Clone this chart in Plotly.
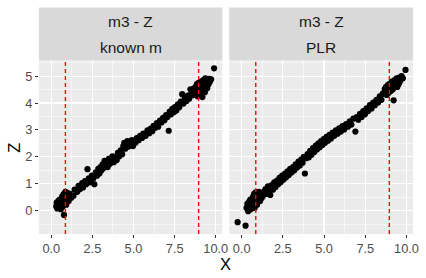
import plotly.graph_objects as go

# ---------------- data ----------------
panel_titles = ["m3 - Z", "m3 - Z"]
panel_subtitles = ["known m", "PLR"]

known_x = [0.30, 0.33, 0.36, 0.40, 0.43, 0.45, 0.48, 0.50, 0.53, 0.56, 0.58, 0.61, 0.64, 0.66, 0.69, 0.72,
           0.74, 0.77, 0.79, 0.82, 0.84, 0.86, 0.88, 0.91, 0.94, 0.97, 1.01, 1.06, 1.13, 1.22,
           1.35, 1.42, 1.58, 1.66, 1.75, 1.88, 1.93, 2.05, 2.12, 2.20, 2.28, 2.36, 2.47, 2.55, 2.62, 2.71,
           2.78, 2.86, 2.93, 2.99, 3.06, 3.12, 3.18, 3.24, 3.30, 3.35, 3.43, 3.50, 3.57, 3.66, 3.72, 3.80,
           3.91, 3.98, 4.05, 4.14, 4.22, 4.31, 4.38, 4.44, 4.50, 4.56, 4.63, 4.70, 4.77, 4.84, 4.90, 4.97,
           5.04, 5.12, 5.20, 5.31, 5.40, 5.52, 5.60, 5.74, 5.85, 5.96, 6.05, 6.14, 6.22, 6.33, 6.42, 6.50,
           6.61, 6.70, 6.80, 6.88, 6.98, 7.06, 7.14, 7.20, 7.28, 7.36, 7.44, 7.52, 7.60, 7.70, 7.78, 7.88,
           7.96, 8.04, 8.12, 8.22, 8.30, 8.38, 8.46, 8.52,
           8.56, 8.60, 8.64, 8.68, 8.72, 8.76, 8.80, 8.83, 8.86, 8.89, 8.92, 8.95, 8.98, 9.01, 9.04, 9.07,
           9.10, 9.13, 9.16, 9.19, 9.22, 9.25, 9.28, 9.31, 9.34, 9.37, 9.40, 9.44, 9.48, 9.52, 9.56, 9.60,
           9.65, 9.72, 9.90]
known_z = [0.16, 0.30, 0.08, 0.24, 0.36, 0.12, 0.28, 0.40, 0.20, 0.33, 0.05, 0.45, 0.26, 0.52, 0.14, 0.38,
           0.60, -0.16, 0.48, 0.64, 0.30, 0.70, 0.55, 0.22, 0.42, 0.66, 0.58, 0.36, 0.62, 0.48,
           0.55, 0.78, 0.70, 0.92, 0.80, 1.02, 0.86, 1.10, 0.98, 1.54, 1.20, 1.05, 1.30, 1.18, 0.98, 1.42,
           1.30, 1.55, 1.38, 1.62, 1.50, 1.72, 1.58, 1.85, 1.66, 1.78, 1.62, 1.92, 1.74, 1.86, 2.02, 1.80,
           2.00, 1.88, 2.15, 2.02, 2.24, 2.10, 2.40, 2.52, 2.30, 2.48, 2.58, 2.38, 2.55, 2.46, 2.62, 2.40,
           2.60, 2.52, 2.70, 2.62, 2.78, 2.70, 2.86, 2.78, 2.98, 2.88, 3.05, 2.95, 3.15, 3.08, 3.25, 3.12,
           3.35, 3.28, 3.45, 3.36, 3.55, 3.48, 2.97, 3.68, 3.58, 3.78, 3.66, 3.85, 3.72, 3.95, 3.84, 4.05,
           4.33, 3.98, 4.18, 4.08, 4.28, 4.16, 4.51, 4.35,
           4.28, 4.45, 4.35, 4.55, 4.30, 4.48, 4.62, 4.40, 4.70, 4.25, 4.58, 4.75, 4.45, 4.30, 4.65, 4.52,
           4.80, 4.38, 4.68, 4.22, 4.60, 4.85, 4.50, 4.72, 4.40, 4.92, 4.62, 4.78, 4.55, 4.85, 4.70, 4.90,
           4.80, 4.88, 5.29]

plr_x = [-0.24, 0.24, 0.30, 0.35, 0.40, 0.44, 0.48, 0.52, 0.56, 0.60, 0.63, 0.66, 0.70, 0.73, 0.76, 0.79,
         0.82, 0.85, 0.88, 0.91, 0.94, 0.97, 1.00, 1.04, 1.08, 1.12, 1.16, 1.20, 1.24, 1.28, 1.33, 1.38,
         1.45, 1.52, 1.60, 1.68, 1.74, 1.83, 1.90, 1.98, 2.06, 2.15, 2.22, 2.30, 2.38, 2.46, 2.55, 2.63,
         2.70, 2.79, 2.86, 2.95, 3.03, 3.12, 3.20, 3.28, 3.36, 3.45, 3.53, 3.62, 3.70, 3.77, 3.84, 3.92,
         4.00, 4.08, 4.16, 4.24, 4.33, 4.41, 4.50, 4.58, 4.66, 4.74, 4.82, 4.90, 4.98, 5.06, 5.15, 5.24,
         5.33, 5.42, 5.52, 5.62, 5.72, 5.82, 5.92, 6.02, 6.12, 6.22, 6.34, 6.45, 6.56, 6.66, 6.78, 6.90,
         6.98, 7.08, 7.18, 7.28, 7.38, 7.48, 7.58, 7.68, 7.78, 7.88, 7.98, 8.08, 8.18, 8.28, 8.38, 8.48,
         8.56,
         8.64, 8.68, 8.72, 8.76, 8.80, 8.84, 8.88, 8.92, 8.96, 9.00, 9.04, 9.08, 9.12, 9.16, 9.20, 9.22,
         9.25, 9.28, 9.32, 9.36, 9.40, 9.44, 9.48, 9.52, 9.56, 9.60, 9.65, 9.70, 9.78, 9.94]
plr_z = [-0.43, -0.56, 0.10, 0.25, -0.02, 0.32, 0.15, 0.40, 0.05, 0.28, 0.45, 0.18, 0.52, 0.35, 0.62, 0.10,
         0.48, 0.68, 0.30, 0.55, 0.22, 0.64, 0.42, 0.70, 0.50, 0.36, 0.58, 0.46, 0.66, 0.52, 0.60, 0.72,
         0.80, 0.62, 0.90, 0.72, 0.58, 0.95, 0.78, 1.05, 0.88, 1.12, 0.98, 1.22, 1.06, 1.30, 1.16, 1.38,
         1.24, 1.46, 1.32, 1.55, 1.42, 1.62, 1.50, 1.72, 1.60, 1.82, 1.68, 1.90, 1.78, 2.00, 1.38, 1.95,
         2.10, 1.98, 2.22, 2.08, 2.32, 2.18, 2.42, 2.28, 2.50, 2.36, 2.58, 2.44, 2.66, 2.52, 2.74, 2.60,
         2.82, 2.68, 2.90, 2.78, 2.98, 2.86, 3.06, 2.94, 3.14, 3.02, 3.22, 3.12, 3.32, 3.20, 3.42, 2.94,
         3.48, 3.38, 3.60, 3.48, 3.70, 3.58, 3.80, 3.70, 3.92, 3.80, 4.02, 3.92, 4.12, 4.02, 4.25, 4.12,
         4.35,
         4.35, 4.52, 4.40, 4.60, 4.30, 4.48, 4.68, 4.38, 4.55, 4.72, 4.45, 4.62, 4.80, 4.50, 4.70, 4.10,
         4.58, 4.85, 4.65, 4.75, 4.92, 4.60, 4.82, 4.70, 4.95, 4.80, 4.88, 5.00, 4.92, 5.23]

cut_points = [0.86, 8.96]

x_tickvals = [0.0, 2.5, 5.0, 7.5, 10.0]
x_ticktext = ["0.0", "2.5", "5.0", "7.5", "10.0"]
y_tickvals = [0, 1, 2, 3, 4, 5]
y_ticktext = ["0", "1", "2", "3", "4", "5"]

# ---------------- layout geometry (pixels of the 426x278 window) ----------------
W, H = 426, 278
px_x = lambda p: p / W
px_y = lambda p: (H - p) / H

dom1 = [px_x(39.5), px_x(225.5)]
dom2 = [px_x(232.5), px_x(419)]
ydom = [px_y(234), px_y(60)]
strip_top = px_y(7.5)

FONT = "Liberation Sans, Arial, sans-serif"

fig = go.Figure()
series = [(known_x, known_z, "x", "y"), (plr_x, plr_z, "x2", "y2")]
for xs, zs, xa, ya in series:
    fig.add_trace(go.Scatter(x=xs, y=zs, mode="markers", xaxis=xa, yaxis=ya,
                             marker=dict(color="black", size=6.2, line=dict(width=0)),
                             showlegend=False, hoverinfo="skip"))

tickfont = dict(family=FONT, size=12.8, color="#4D4D4D")
xrange_ = [-0.75, 10.4]
yrange_ = [-0.87, 5.6]


def axis(domain, rng, tv, tt, anchor, minor_dtick, show_labels=True, ticks="outside"):
    return dict(domain=domain, range=rng, tickvals=tv, ticktext=tt, anchor=anchor,
                showgrid=True, gridcolor="white", gridwidth=1.1, zeroline=False, showline=False,
                ticks=ticks, ticklen=3, tickcolor="#333333", tickwidth=1,
                showticklabels=show_labels, tickfont=tickfont,
                minor=dict(dtick=minor_dtick, tick0=0, showgrid=True, gridcolor="white",
                           gridwidth=0.55, ticks=""))


fig.update_layout(
    width=W, height=H, margin=dict(l=0, r=0, t=0, b=0),
    paper_bgcolor="white", plot_bgcolor="#EBEBEB",
    xaxis=axis(dom1, xrange_, x_tickvals, x_ticktext, "y", 1.25),
    xaxis2=axis(dom2, xrange_, x_tickvals, x_ticktext, "y2", 1.25),
    yaxis=axis(ydom, yrange_, y_tickvals, y_ticktext, "x", 0.5),
    yaxis2=axis(ydom, yrange_, y_tickvals, y_ticktext, "x2", 0.5, show_labels=False, ticks=""),
)

shapes = []
# dashed cut-lines (drawn on top of points)
for xa, ya in [("x", "y"), ("x2", "y2")]:
    for c in cut_points:
        shapes.append(dict(type="line", xref=xa, yref=ya + " domain",
                           x0=c, x1=c, y0=0, y1=1, layer="above",
                           line=dict(color="#FF0000", width=1.4, dash="4px,3px")))
# strips
for dom in (dom1, dom2):
    shapes.append(dict(type="rect", xref="paper", yref="paper", x0=dom[0], x1=dom[1],
                       y0=ydom[1], y1=strip_top, fillcolor="#D9D9D9", line=dict(width=0), layer="below"))
fig.update_layout(shapes=shapes)

annots = []
strip_font = dict(family=FONT, size=15.5, color="#1A1A1A")
for dom, t1, t2 in zip((dom1, dom2), panel_titles, panel_subtitles):
    cx = (dom[0] + dom[1]) / 2
    annots.append(dict(text=t1, x=cx, y=px_y(21.5), xref="paper", yref="paper", showarrow=False,
                       font=strip_font, xanchor="center", yanchor="middle"))
    annots.append(dict(text=t2, x=cx, y=px_y(47.5), xref="paper", yref="paper", showarrow=False,
                       font=strip_font, xanchor="center", yanchor="middle"))
title_font = dict(family=FONT, size=16.5, color="black")
annots.append(dict(text="X", x=px_x(229), y=px_y(263.5), xref="paper", yref="paper", showarrow=False,
                   font=title_font, xanchor="center", yanchor="middle"))
annots.append(dict(text="Z", x=px_x(14), y=px_y(148), xref="paper", yref="paper", showarrow=False,
                   font=title_font, xanchor="center", yanchor="middle", textangle=-90))
fig.update_layout(annotations=annots)

# the page body would otherwise add an 8px margin around the figure
fig.write_html("out.html", config={"displayModeBar": False, "staticPlot": True},
               post_script="document.body.style.margin='0';")
